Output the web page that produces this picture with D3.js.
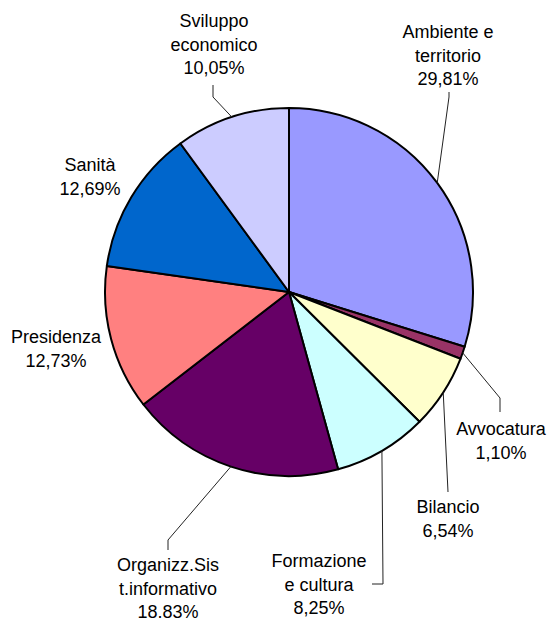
<!DOCTYPE html>
<html>
<head>
<meta charset="utf-8">
<script src="https://cdn.jsdelivr.net/npm/d3@7"></script>
<style>
  html, body { margin: 0; padding: 0; background: #fff; }
  svg { display: block; }
  text { font-family: "Liberation Sans", Arial, sans-serif; font-size: 18px; fill: #000; }
</style>
</head>
<body>
<svg id="chart" width="549" height="622"></svg>
<script>
// Budget share by area, clockwise from 12 o'clock
const categories = ["Ambiente e territorio", "Avvocatura", "Bilancio", "Formazione e cultura",
  "Organizz.Sist.informativo", "Presidenza", "Sanità", "Sviluppo economico"];
const values = [29.81, 1.10, 6.54, 8.25, 18.83, 12.73, 12.69, 10.05];
const valueLabels = ["29,81%", "1,10%", "6,54%", "8,25%", "18.83%", "12,73%", "12,69%", "10,05%"];
const nameLines = [["Ambiente e", "territorio"], ["Avvocatura"], ["Bilancio"], ["Formazione", "e cultura"],
  ["Organizz.Sis", "t.informativo"], ["Presidenza"], ["Sanità"], ["Sviluppo", "economico"]];
const colors = ["#9999FF", "#993366", "#FFFFCC", "#CCFFFF", "#660066", "#FF8080", "#0066CC", "#CCCCFF"];

// Label block placement (centre x, first baseline) and leader-line path after the slice edge
const layout = [
  { x: 448, y: 38, leader: [[449, 97], [449, 92]] },
  { x: 501, y: 435, leader: [[500, 398], [500, 412]] },
  { x: 448, y: 513, leader: [[448, 492]] },
  { x: 319, y: 567, leader: [[383, 584], [372, 584]] },
  { x: 168, y: 571, leader: [[168, 540], [168, 550]] },
  { x: 56, y: 343, leader: null },
  { x: 90, y: 171, leader: null },
  { x: 214, y: 27, leader: [[213, 97], [213, 85]] }
];

const cx = 289, cy = 292, r = 184, lineH = 23.5;
const svg = d3.select("#chart");
const g = svg.append("g").attr("transform", `translate(${cx},${cy})`);

const pie = d3.pie().sort(null).value(d => d.v);
const data = values.map((v, i) => ({ v, i }));
const arcs = pie(data);
const arc = d3.arc().innerRadius(0).outerRadius(r);

g.selectAll("path.slice")
  .data(arcs)
  .join("path")
  .attr("class", "slice")
  .attr("d", arc)
  .attr("fill", d => colors[d.data.i])
  .attr("stroke", "#000")
  .attr("stroke-width", 2)
  .attr("stroke-linejoin", "round");

// Leader lines start on the rim at each slice's mid-angle
const line = d3.line();
arcs.forEach((a, i) => {
  const L = layout[i];
  if (!L.leader) return;
  const mid = (a.startAngle + a.endAngle) / 2;
  const start = [cx + r * Math.sin(mid), cy - r * Math.cos(mid)];
  svg.append("path")
    .attr("d", line([start, ...L.leader]))
    .attr("fill", "none")
    .attr("stroke", "#222")
    .attr("stroke-width", 1);
});

// Labels: category name lines followed by the percentage
layout.forEach((L, i) => {
  const lines = [...nameLines[i], valueLabels[i]];
  const t = svg.append("text").attr("text-anchor", "middle");
  lines.forEach((s, k) => {
    t.append("tspan").attr("x", L.x).attr("y", L.y + k * lineH).text(s);
  });
});
</script>
</body>
</html>
